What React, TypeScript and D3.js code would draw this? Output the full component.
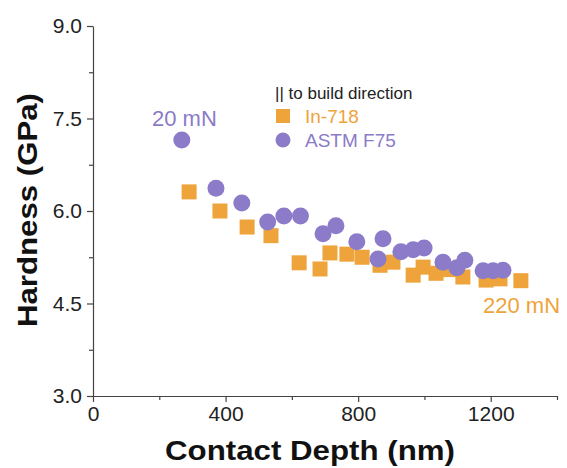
import * as d3 from "d3";
import { useEffect, useRef } from "react";

// In-718, parallel to build direction
const in718Depth = [290, 383, 465, 537, 622, 685, 715, 766, 812, 866, 905, 966, 996, 1035, 1075, 1116, 1186, 1228, 1291];
const in718Hard = [6.31, 6.0, 5.74, 5.6, 5.16, 5.06, 5.32, 5.3, 5.25, 5.12, 5.17, 4.96, 5.09, 4.99, 5.05, 4.93, 4.88, 4.9, 4.87];

// ASTM F75
const f75Depth = [268, 371, 449, 527, 576, 626, 694, 733, 796, 860, 875, 929, 966, 999, 1056, 1098, 1122, 1177, 1207, 1237];
const f75Hard = [7.15, 6.37, 6.13, 5.82, 5.92, 5.92, 5.63, 5.76, 5.5, 5.22, 5.55, 5.34, 5.37, 5.4, 5.17, 5.08, 5.2, 5.03, 5.03, 5.04];

const xTicks = [0, 400, 800, 1200];
const xMinor = [200, 600, 1000, 1400];
const yTicks = [3.0, 4.5, 6.0, 7.5, 9.0];
const yMinor = [3.75, 5.25, 6.75, 8.25];

const ORANGE = "#EEA33B";
const PURPLE = "#8B7BC8";

const width = 567;
const height = 468;
const margin = { top: 26, right: 10, bottom: 72, left: 93 };

export default function App() {
  const svgRef = useRef<SVGSVGElement | null>(null);

  useEffect(() => {
    if (!svgRef.current) return;
    const svg = d3.select(svgRef.current);
    svg.selectAll("*").remove();

    const x = d3.scaleLinear().domain([0, 1400]).range([margin.left, width - margin.right]);
    const y = d3.scaleLinear().domain([3, 9]).range([height - margin.bottom, margin.top]);
    const font = "Arial, 'Liberation Sans', sans-serif";
    const axisColor = "#444";

    // axes
    const xAxis = svg
      .append("g")
      .attr("transform", `translate(0,${y(3)})`)
      .call(d3.axisBottom(x).tickValues(xTicks).tickSize(6).tickSizeOuter(0).tickPadding(4).tickFormat(d3.format("d")));
    xAxis.selectAll(".tick text").attr("font-size", 21).attr("font-family", font).attr("fill", "#222");
    svg
      .append("g")
      .attr("transform", `translate(0,${y(3)})`)
      .call(d3.axisBottom(x).tickValues(xMinor).tickSize(4).tickSizeOuter(0).tickFormat(() => ""))
      .select(".domain")
      .remove();

    const yAxis = svg
      .append("g")
      .attr("transform", `translate(${x(0)},0)`)
      .call(d3.axisLeft(y).tickValues(yTicks).tickSize(6).tickSizeOuter(0).tickPadding(5).tickFormat(d3.format(".1f")));
    yAxis.selectAll(".tick text").attr("font-size", 21).attr("font-family", font).attr("fill", "#222");
    svg
      .append("g")
      .attr("transform", `translate(${x(0)},0)`)
      .call(d3.axisLeft(y).tickValues(yMinor).tickSize(4).tickSizeOuter(0).tickFormat(() => ""))
      .select(".domain")
      .remove();

    svg.selectAll(".domain, .tick line").attr("stroke", axisColor).attr("stroke-width", 1.2);

    // titles
    svg
      .append("text")
      .attr("x", 310)
      .attr("y", 460)
      .attr("text-anchor", "middle")
      .attr("font-family", font)
      .attr("font-weight", "bold")
      .attr("font-size", 28)
      .attr("textLength", 290)
      .attr("lengthAdjust", "spacingAndGlyphs")
      .attr("fill", "#111")
      .text("Contact Depth (nm)");
    svg
      .append("text")
      .attr("transform", `translate(37,210) rotate(-90)`)
      .attr("text-anchor", "middle")
      .attr("font-family", font)
      .attr("font-weight", "bold")
      .attr("font-size", 28)
      .attr("textLength", 234)
      .attr("lengthAdjust", "spacingAndGlyphs")
      .attr("fill", "#111")
      .text("Hardness (GPa)");

    // data
    const sq = 15;
    svg
      .append("g")
      .selectAll("rect")
      .data(d3.zip(in718Depth, in718Hard))
      .join("rect")
      .attr("x", (d) => x(d[0]) - sq / 2)
      .attr("y", (d) => y(d[1]) - sq / 2)
      .attr("width", sq)
      .attr("height", sq)
      .attr("fill", ORANGE);

    svg
      .append("g")
      .selectAll("circle")
      .data(d3.zip(f75Depth, f75Hard))
      .join("circle")
      .attr("cx", (d) => x(d[0]))
      .attr("cy", (d) => y(d[1]))
      .attr("r", 8.5)
      .attr("fill", PURPLE);

    // legend
    const lg = svg.append("g");
    lg.append("text")
      .attr("x", 275)
      .attr("y", 99)
      .attr("font-family", font)
      .attr("font-size", 17)
      .attr("fill", "#222")
      .text("|| to build direction");
    lg.append("rect").attr("x", 276).attr("y", 109).attr("width", 14).attr("height", 14).attr("fill", ORANGE);
    lg.append("text")
      .attr("x", 305)
      .attr("y", 123)
      .attr("font-family", font)
      .attr("font-size", 19)
      .attr("fill", ORANGE)
      .text("In-718");
    lg.append("circle").attr("cx", 283).attr("cy", 140).attr("r", 7.5).attr("fill", PURPLE);
    lg.append("text")
      .attr("x", 305)
      .attr("y", 147)
      .attr("font-family", font)
      .attr("font-size", 19)
      .attr("fill", PURPLE)
      .text("ASTM F75");

    // annotations
    svg
      .append("text")
      .attr("x", 152)
      .attr("y", 126)
      .attr("font-family", font)
      .attr("font-size", 22)
      .attr("fill", PURPLE)
      .text("20 mN");
    svg
      .append("text")
      .attr("x", 483)
      .attr("y", 313)
      .attr("font-family", font)
      .attr("font-size", 22)
      .attr("fill", ORANGE)
      .text("220 mN");
  }, []);

  return (
    <svg
      ref={svgRef}
      width={width}
      height={height}
      style={{ position: "absolute", left: 0, top: 0, background: "#fff" }}
    />
  );
}
